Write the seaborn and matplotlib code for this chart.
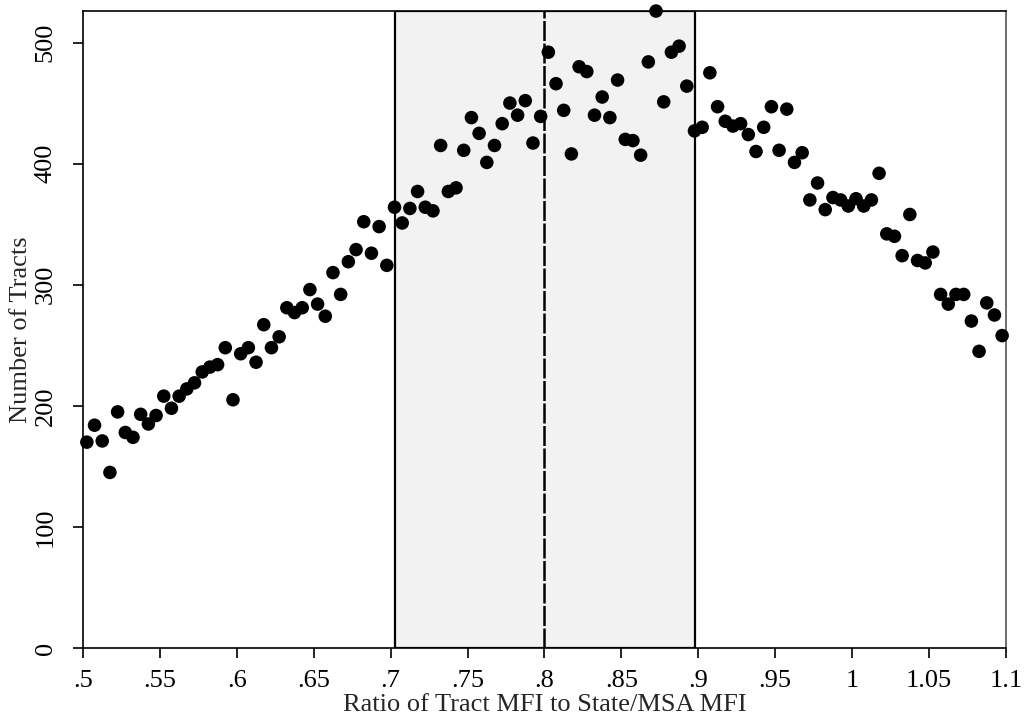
import numpy as np
import pandas as pd
import matplotlib
matplotlib.use("Agg")
import matplotlib.pyplot as plt
import seaborn as sns

# bin midpoints of the ratio
ratio = [round(0.5025 + 0.005 * i, 4) for i in range(120)]
tracts = [
    170, 184, 171, 145, 195, 178, 174, 193, 185, 192,
    208, 198, 208, 214, 219, 228, 232, 234, 248, 205,
    243, 248, 236, 267, 248, 257, 281, 277, 281, 296,
    284, 274, 310, 292, 319, 329, 352, 326, 348, 316,
    364, 351, 363, 377, 364, 361, 415, 377, 380, 411,
    438, 425, 401, 415, 433, 450, 440, 452, 417, 439,
    492, 466, 444, 408, 480, 476, 440, 455, 438, 469,
    420, 419, 407, 484, 526, 451, 492, 497, 464, 427,
    430, 475, 447, 435, 431, 433, 424, 410, 430, 447,
    411, 445, 401, 409, 370, 384, 362, 372, 370, 365,
    371, 365, 370, 392, 342, 340, 324, 358, 320, 318,
    327, 292, 284, 292, 292, 270, 245, 285, 275, 258,
]
xticks = [0.5, 0.55, 0.6, 0.65, 0.7, 0.75, 0.8, 0.85, 0.9, 0.95, 1.0, 1.05, 1.1]
xtick_labels = [".5", ".55", ".6", ".65", ".7", ".75", ".8", ".85", ".9", ".95", "1", "1.05", "1.1"]
yticks = [0, 100, 200, 300, 400, 500]
band = (0.703, 0.898)
cutoff = 0.8

df = pd.DataFrame({"ratio": ratio, "tracts": tracts})

sns.set_theme(style="white")
plt.rcParams["font.family"] = ["Liberation Serif", "DejaVu Serif"]

fig = plt.figure(figsize=(10.26, 7.21), dpi=100)
ax = fig.add_axes([0.0809, 0.1012, 0.8996, 0.8835])

ax.axvspan(band[0], band[1], ymin=0, ymax=1, facecolor="#f2f2f2",
           edgecolor="black", linewidth=1.6, zorder=1)
ax.axvline(cutoff, color="black", linewidth=1.8, linestyle=(0, (8, 1)), zorder=2)

sns.scatterplot(data=df, x="ratio", y="tracts", ax=ax, color="black",
                s=95, edgecolor="none", zorder=3, clip_on=False, legend=False)

ax.set_xlim(0.5, 1.1)
ax.set_ylim(0, 526)
ax.set_xticks(xticks)
ax.set_xticklabels(xtick_labels)
ax.set_yticks(yticks)
ax.set_yticklabels([str(v) for v in yticks], rotation=90, va="center")
ax.tick_params(axis="both", direction="out", length=7, width=1.2, color="black",
               labelsize=19, colors="black", bottom=True, left=True)
ax.tick_params(axis="x", pad=9)
ax.tick_params(axis="y", pad=12)

for side in ["left", "bottom", "top", "right"]:
    ax.spines[side].set_visible(True)
    ax.spines[side].set_color("black")
    ax.spines[side].set_linewidth(1.2)
ax.spines["right"].set_color("#555555")

ax.set_xlabel("Ratio of Tract MFI to State/MSA MFI", fontsize=19, labelpad=1)
ax.set_ylabel("Number of Tracts", fontsize=19, labelpad=2)

fig.savefig("out.png", dpi=100, facecolor="white")
